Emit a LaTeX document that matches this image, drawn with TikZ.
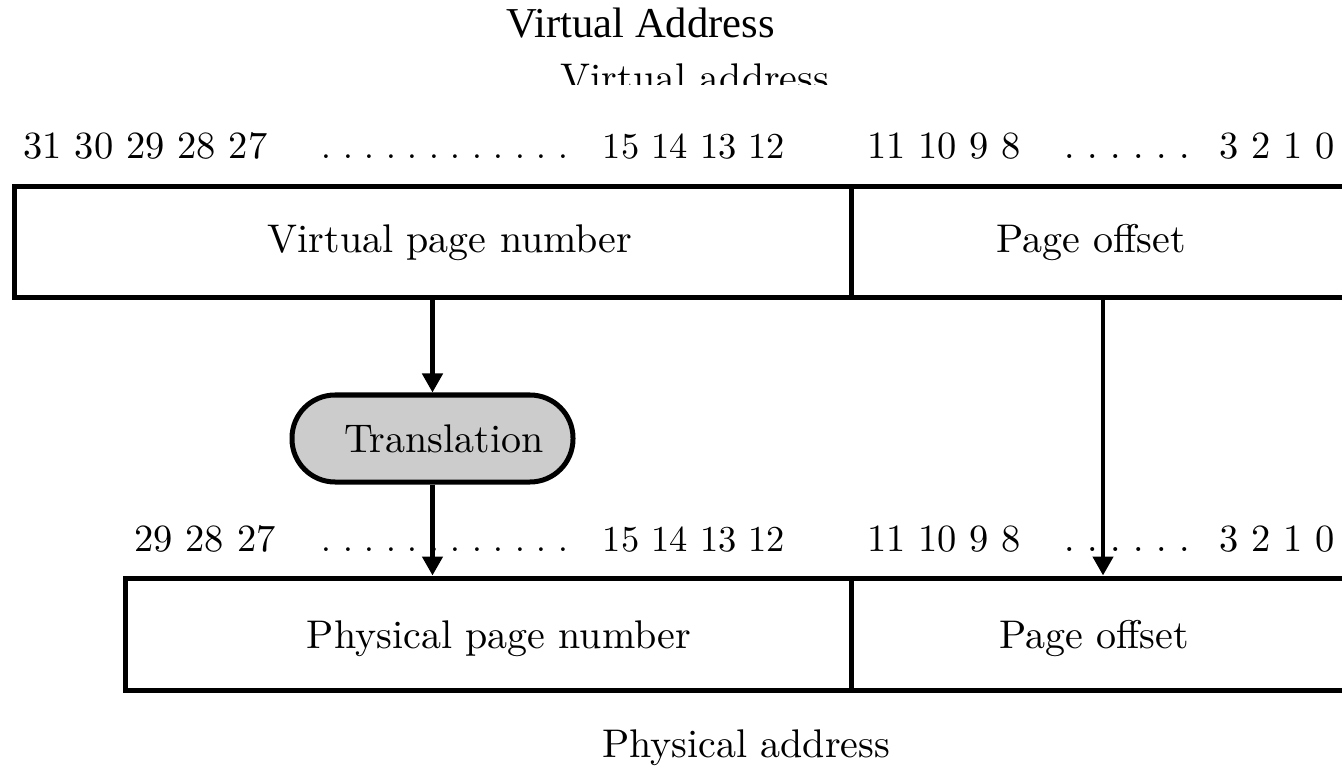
\documentclass[tikz,border=0pt]{standalone}
\usepackage{fontspec}
\newfontfamily\titlefont{Liberation Serif}
\newfontfamily\bodyfont{lmroman10-regular.otf}
\usetikzlibrary{arrows.meta}
\definecolor{boxgray}{HTML}{CCCCCC}
\tikzset{
  field/.style={draw, line width=5pt, inner sep=0pt},
  lbl/.style={anchor=base, inner sep=0pt, font=\bodyfont\fontsize{40}{47}\selectfont},
  bits/.style={anchor=base, inner sep=0pt, font=\bodyfont\fontsize{38.5}{45}\selectfont\frenchspacing},
  bitsmid/.style={bits, font=\bodyfont\fontsize{36.5}{43}\selectfont\frenchspacing},
  dotsA/.style={bits, font=\bodyfont\fontsize{35.2}{42}\selectfont\frenchspacing},
  dotsB/.style={bits, font=\bodyfont\fontsize{37.6}{44}\selectfont\frenchspacing},
  ttl/.style={anchor=base, inner sep=0pt},
  arr/.style={line width=4.5pt, -{Triangle[width=20pt,length=19pt]}},
  unit/.style={draw, line width=5pt, fill=boxgray, rounded corners=43pt,
    minimum width=281pt, minimum height=87pt, inner sep=0pt}
}
\begin{document}
\begin{tikzpicture}[x=1pt, y=-1pt]
\clip (0,0) rectangle (1342,767);
\fill[white] (0,0) rectangle (1342,767);

% headings
\node[ttl, font=\titlefont\fontsize{42.6}{50}\selectfont] (h1) at (640.5,38) {Virtual Address};
\begin{scope}
  \clip (0,0) rectangle (1342,85);
  \node[lbl] (h2) at (695,92) {Virtual address};
\end{scope}

% bit numbers of the virtual address
\node[bits] (v31) at (145.5,159) {31 30 29 28 27};
\node[dotsA] (vd1) at (445,159) {. . . . . . . . . . . .};
\node[bitsmid] (v15) at (694,159) {15 14 13 12};
\node[bits] (v11) at (944,159) {11 10 9 8};
\node[dotsB] (vd2) at (1127.5,159) {. . . . . .};
\node[bits] (v3) at (1277.5,159) {3 2 1 0};

% virtual address fields
\node[field, minimum width=837pt, minimum height=111pt] (vpn) at (432.5,242.5) {};
\node[field, minimum width=504pt, minimum height=111pt] (voff) at (1103,242.5) {};
\node[lbl] (vpnl) at (450,253) {Virtual page number};
\node[lbl] (voffl) at (1091,253) {Page offset};

% translation step
\node[unit] (tr) at (432.5,438.5) {};
\node[lbl] (trl) at (444,452) {Translation};

% bit numbers of the physical address
\node[bits] (p29) at (205,551) {29 28 27};
\node[dotsA] (pd1) at (445,551) {. . . . . . . . . . . .};
\node[bitsmid] (p15) at (694,551) {15 14 13 12};
\node[bits] (p11) at (944,551) {11 10 9 8};
\node[dotsB] (pd2) at (1127.5,551) {. . . . . .};
\node[bits] (p3) at (1277.5,551) {3 2 1 0};

% physical address fields
\node[field, minimum width=726pt, minimum height=112pt] (ppn) at (488,634) {};
\node[field, minimum width=504pt, minimum height=112pt] (poff) at (1103,634) {};
\node[lbl] (ppnl) at (499,648) {Physical page number};
\node[lbl] (poffl) at (1094,648) {Page offset};

\node[lbl] (pa) at (746,757) {Physical address};

% connectors
\draw[arr] (vpn.south) -- (tr.north);
\draw[arr] (tr.south) -- (tr.south |- ppn.north);
\draw[arr] (voff.south) -- (poff.north);
\end{tikzpicture}
\end{document}
